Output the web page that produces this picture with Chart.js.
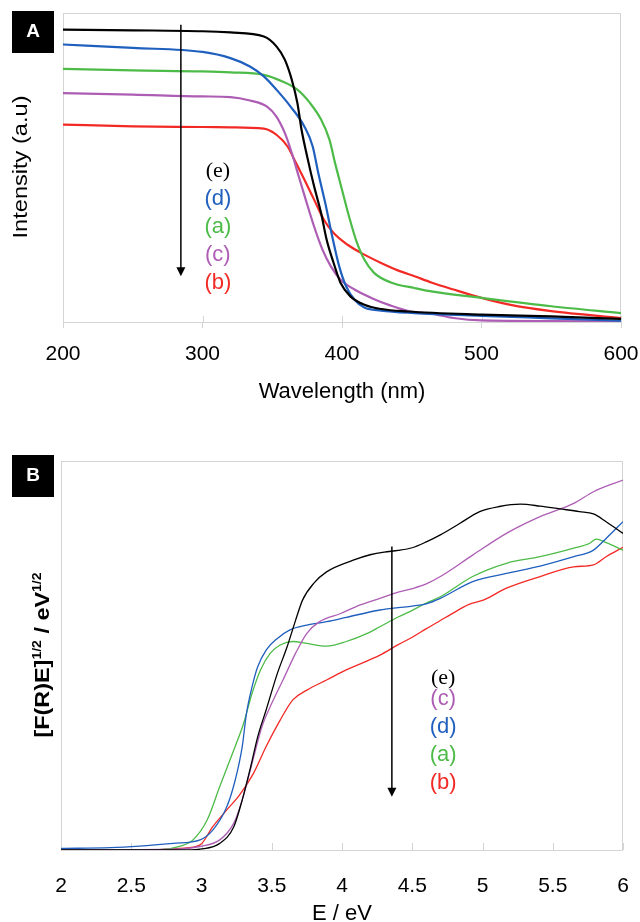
<!DOCTYPE html>
<html>
<head>
<meta charset="utf-8">
<script src="https://cdn.jsdelivr.net/npm/chart.js@4.4.0/dist/chart.umd.min.js"></script>
<style>
  html, body { margin: 0; padding: 0; background: #fff; overflow: hidden; }
  canvas { display: block; }
</style>
</head>
<body>
<canvas id="chartA" width="640" height="440"></canvas>
<canvas id="chartB" width="640" height="482"></canvas>
<script>
// --- A: reflectance spectra, wavelength (nm) vs intensity (a.u.) ---
const wlE  = [200, 250, 300, 320, 344, 353, 359, 364, 368, 371, 375, 380, 385, 389, 394, 399, 406, 416, 428, 447, 500, 550, 600];
const intE = [94.6, 94.4, 94.1, 93.7, 92.4, 89.2, 84.9, 78.4, 70.9, 62.2, 53.6, 43.9, 35.3, 26.6, 19.1, 12.6, 8.3, 5.6, 4.2, 3.4, 2.4, 1.8, 1.0];

const wlD  = [200, 250, 300, 320, 334, 344, 353, 363, 373, 379, 383, 388, 393, 398, 403, 409, 416, 428, 452, 500, 550, 600];
const intD = [89.8, 88.7, 87.4, 85.4, 82.7, 79.5, 75.2, 69.8, 63.3, 56.8, 48.2, 38.5, 27.7, 18.0, 11.5, 7.2, 4.7, 3.7, 2.9, 2.0, 1.2, 0.4];

const wlA  = [200, 250, 300, 320, 344, 357, 368, 377, 385, 391, 395, 400, 405, 410, 416, 423, 435, 452, 464, 500, 550, 600];
const intA = [81.9, 81.4, 81.1, 80.8, 80.0, 77.9, 75.2, 70.9, 65.5, 59.0, 51.5, 42.8, 34.2, 26.6, 20.2, 15.9, 12.8, 11.0, 9.9, 7.8, 5.1, 2.9];

const wlC  = [200, 250, 300, 320, 334, 346, 353, 359, 364, 369, 374, 380, 386, 392, 399, 409, 421, 435, 449, 464, 480, 500, 550, 600];
const intC = [74.1, 73.6, 73.0, 72.8, 71.7, 69.8, 66.5, 61.2, 54.7, 47.1, 39.6, 30.9, 23.4, 18.0, 13.7, 10.5, 7.8, 5.3, 3.4, 2.7, 1.3, 0.5, 0.3, 0.2];

const wlB  = [200, 250, 300, 320, 344, 353, 361, 367, 373, 380, 387, 394, 404, 416, 428, 440, 452, 464, 480, 500, 520, 550, 600];
const intB = [63.9, 63.3, 63.1, 63.0, 62.6, 60.6, 56.8, 51.5, 46.1, 39.6, 33.1, 28.8, 25.0, 21.8, 19.1, 16.7, 14.8, 12.8, 10.5, 7.8, 5.6, 3.5, 1.3];

const wlTicks = [200, 300, 400, 500, 600];

// --- B: Kubelka-Munk transform, E (eV) vs [F(R)E]^1/2 ---
const eE  = [2.0, 2.9, 2.99, 3.13, 3.23, 3.29, 3.35, 3.40, 3.46, 3.54, 3.61, 3.67, 3.72, 3.80, 3.89, 4.08, 4.2, 4.3, 4.4, 4.5, 4.6, 4.70, 4.84, 4.98, 5.12, 5.27, 5.41, 5.55, 5.69, 5.79, 5.88, 6.0];
const kmE = [0, 0, 0.2, 1.7, 6.0, 12.9, 21.4, 29.1, 36.0, 45.4, 52.3, 59.1, 64.3, 68.6, 71.5, 74.5, 75.9, 76.6, 77.0, 77.7, 79.2, 81.0, 84.0, 87.0, 88.3, 88.9, 88.4, 87.7, 87.0, 86.4, 84.4, 81.4];

const eC  = [2.0, 2.85, 2.99, 3.13, 3.23, 3.29, 3.36, 3.43, 3.50, 3.58, 3.67, 3.75, 3.84, 3.99, 4.13, 4.27, 4.4, 4.5, 4.6, 4.70, 4.93, 5.17, 5.41, 5.65, 5.79, 6.0];
const kmC = [0, 0.3, 0.9, 2.6, 6.9, 12.9, 22.3, 31.7, 37.7, 43.7, 50.6, 55.7, 58.7, 60.8, 63.0, 64.7, 66.3, 67.2, 68.4, 70.3, 75.8, 81.4, 85.7, 89.1, 92.1, 95.1];

const eD  = [2.0, 2.35, 2.56, 2.80, 2.99, 3.08, 3.18, 3.24, 3.29, 3.32, 3.36, 3.40, 3.46, 3.54, 3.63, 3.75, 3.89, 4.03, 4.27, 4.4, 4.5, 4.6, 4.70, 4.93, 5.17, 5.41, 5.65, 5.79, 5.88, 6.0];
const kmD = [0.4, 0.6, 1.0, 1.7, 2.6, 5.1, 11.1, 18.0, 26.6, 35.1, 42.0, 47.1, 51.4, 54.4, 56.6, 57.8, 58.7, 59.8, 61.7, 62.3, 62.7, 63.3, 64.7, 69.0, 71.1, 73.0, 75.4, 77.1, 80.1, 84.4];

const eA  = [2.0, 2.7, 2.85, 2.94, 3.04, 3.13, 3.23, 3.30, 3.36, 3.42, 3.49, 3.56, 3.65, 3.75, 3.89, 4.03, 4.18, 4.27, 4.4, 4.5, 4.6, 4.70, 4.93, 5.17, 5.41, 5.65, 5.76, 5.81, 5.88, 6.0];
const kmA = [0, 0.1, 1.0, 2.6, 7.7, 16.3, 25.7, 32.6, 40.3, 46.3, 50.6, 52.7, 53.6, 53.1, 52.4, 53.6, 55.7, 57.4, 59.9, 61.6, 63.5, 65.1, 70.3, 73.7, 75.4, 77.6, 78.8, 79.9, 79.0, 77.1];

const eB  = [2.0, 2.7, 2.85, 2.99, 3.08, 3.18, 3.27, 3.37, 3.46, 3.56, 3.65, 3.75, 3.89, 4.03, 4.27, 4.4, 4.5, 4.6, 4.7, 4.8, 4.9, 5.01, 5.17, 5.41, 5.65, 5.79, 5.88, 6.0];
const kmB = [0, 0.1, 0.4, 1.3, 6.0, 10.3, 14.1, 19.7, 26.6, 33.4, 38.6, 41.1, 43.7, 46.3, 50.1, 52.8, 54.7, 56.9, 59.0, 61.1, 63.1, 64.3, 67.3, 70.3, 72.8, 73.3, 75.4, 77.8];

// order of the sample labels next to the arrows
const orderA = ['e', 'd', 'a', 'c', 'b'];
const orderB = ['e', 'c', 'd', 'a', 'b'];

const colors = { a: '#4dbb48', b: '#f22a26', c: '#ad5db4', d: '#1f5fbe', e: '#000000' };
const SANS = "'Liberation Sans', Arial, sans-serif";
const SERIF = "'Liberation Serif', 'Times New Roman', serif";

function series(xs, ys, key, width) {
  return {
    data: xs.map((x, i) => ({ x: x, y: ys[i] })),
    borderColor: colors[key],
    borderWidth: width,
    pointRadius: 0,
    cubicInterpolationMode: 'monotone',
    fill: false
  };
}

// rotated axis title, parts may be superscript; stretch widens it along its length
function rotatedTitle(ctx, parts, baseX, midY, size, weight, stretch) {
  ctx.save();
  ctx.translate(baseX, midY);
  ctx.rotate(-Math.PI / 2);
  ctx.scale(stretch, 1);
  ctx.fillStyle = '#000';
  ctx.textAlign = 'left';
  ctx.textBaseline = 'alphabetic';
  const fontOf = p => weight + ' ' + (p.sup ? Math.round(size * 0.62) : size) + 'px ' + SANS;
  let w = 0;
  parts.forEach(p => { ctx.font = fontOf(p); w += ctx.measureText(p.text).width; });
  let x = -w / 2;
  parts.forEach(p => {
    ctx.font = fontOf(p);
    ctx.fillText(p.text, x, p.sup ? -size * 0.4 : 0);
    x += ctx.measureText(p.text).width;
  });
  ctx.restore();
}

function annotations(cfg) {
  return {
    id: 'annotations',
    beforeDatasetsDraw(chart) {
      const { ctx, chartArea: a, scales: { x } } = chart;
      ctx.save();
      ctx.strokeStyle = '#d4d4d4';
      ctx.lineWidth = 1;
      ctx.strokeRect(a.left + 0.5, a.top + 0.5, a.right - a.left - 1, a.bottom - a.top);
      ctx.beginPath();
      x.ticks.forEach(t => {
        const px = Math.round(x.getPixelForValue(t.value)) + 0.5;
        ctx.moveTo(px, a.bottom);
        ctx.lineTo(px, a.bottom - cfg.innerTick);
      });
      ctx.stroke();
      ctx.restore();
    },
    afterDraw(chart) {
      const { ctx, scales: { x, y } } = chart;
      ctx.save();
      // panel letter
      ctx.fillStyle = '#000';
      ctx.fillRect(cfg.box[0], cfg.box[1], 42, 42);
      ctx.fillStyle = '#fff';
      ctx.font = 'bold 19px ' + SANS;
      ctx.textAlign = 'center';
      ctx.textBaseline = 'middle';
      ctx.fillText(cfg.letter, cfg.box[0] + 21, cfg.box[1] + 21);

      rotatedTitle(ctx, cfg.yTitle, cfg.yTitleX, cfg.yTitleY, 20, cfg.yTitleWeight, cfg.yStretch);

      // arrow
      const ax = x.getPixelForValue(cfg.arrow.x);
      const y0 = y.getPixelForValue(cfg.arrow.from);
      const y1 = y.getPixelForValue(cfg.arrow.to);
      ctx.strokeStyle = '#000';
      ctx.fillStyle = '#000';
      ctx.lineWidth = 1.5;
      ctx.beginPath();
      ctx.moveTo(ax, y0);
      ctx.lineTo(ax, y1 - 6);
      ctx.stroke();
      ctx.beginPath();
      ctx.moveTo(ax - 4.5, y1 - 9);
      ctx.lineTo(ax + 4.5, y1 - 9);
      ctx.lineTo(ax, y1);
      ctx.closePath();
      ctx.fill();

      // sample labels
      const lx = x.getPixelForValue(cfg.labels.x);
      cfg.labels.order.forEach((k, i) => {
        ctx.font = (k === 'e' ? '22px ' + SERIF : '22px ' + SANS);
        ctx.fillStyle = colors[k];
        ctx.textAlign = 'center';
        ctx.textBaseline = 'middle';
        ctx.fillText('(' + k + ')', lx, y.getPixelForValue(cfg.labels.ys[i]));
      });
      ctx.restore();
    }
  };
}

function makeOptions(xMin, xMax, step, title, pad, axisHeight, tickPad, titlePad, gridOn) {
  return {
    responsive: false,
    animation: false,
    devicePixelRatio: 1,
    layout: { padding: pad },
    plugins: { legend: { display: false }, tooltip: { enabled: false } },
    scales: {
      x: {
        type: 'linear',
        min: xMin, max: xMax,
        afterFit: s => { s.height = axisHeight; s.paddingLeft = 0; s.paddingRight = 0; },
        ticks: {
          stepSize: step, color: '#000', padding: tickPad, maxRotation: 0,
          font: { family: SANS, size: 21 },
          callback: v => String(v)
        },
        grid: { display: gridOn, drawOnChartArea: false, drawTicks: gridOn, tickLength: 6, color: '#d4d4d4' },
        border: { display: false },
        title: { display: true, text: title, color: '#000', padding: titlePad, font: { family: SANS, size: 22 } }
      },
      y: { display: false, min: 0, max: 100 }
    }
  };
}

new Chart(document.getElementById('chartA'), {
  type: 'line',
  data: {
    datasets: [
      series(wlE, intE, 'e', 2.2),
      series(wlD, intD, 'd', 2.2),
      series(wlA, intA, 'a', 2.2),
      series(wlC, intC, 'c', 2.2),
      series(wlB, intB, 'b', 2.2)
    ]
  },
  options: makeOptions(wlTicks[0], wlTicks[wlTicks.length - 1], 100, 'Wavelength (nm)',
    { left: 63, right: 19, top: 13, bottom: 0 }, 118, 14, { top: 0, bottom: 35 }, true),
  plugins: [annotations({
    letter: 'A', box: [12, 11], innerTick: 6,
    yTitle: [{ text: 'Intensity (a.u)' }], yTitleX: 27, yTitleY: 167, yTitleWeight: 'normal', yStretch: 1.18,
    arrow: { x: 284.5, from: 96.2, to: 14.8 },
    labels: { x: 311, order: orderA, ys: [48.7, 39.8, 30.9, 21.8, 12.8] }
  })]
});

new Chart(document.getElementById('chartB'), {
  type: 'line',
  data: {
    datasets: [
      series(eE, kmE, 'e', 1.3),
      series(eC, kmC, 'c', 1.3),
      series(eD, kmD, 'd', 1.3),
      series(eA, kmA, 'a', 1.3),
      series(eB, kmB, 'b', 1.3)
    ]
  },
  options: makeOptions(2, 6, 0.5, 'E / eV',
    { left: 61, right: 17, top: 21, bottom: 0 }, 72, 24, { top: 0, bottom: -5 }, false),
  plugins: [annotations({
    letter: 'B', box: [12, 15], innerTick: 7,
    yTitle: [{ text: '[F(R)E]' }, { text: '1/2', sup: true }, { text: ' / eV' }, { text: '1/2', sup: true }],
    yTitleX: 49, yTitleY: 215, yTitleWeight: 'bold', yStretch: 1.17,
    arrow: { x: 4.355, from: 78.0, to: 13.7 },
    labels: { x: 4.72, order: orderB, ys: [44.2, 38.8, 31.6, 24.4, 17.2] }
  })]
});
</script>
</body>
</html>
